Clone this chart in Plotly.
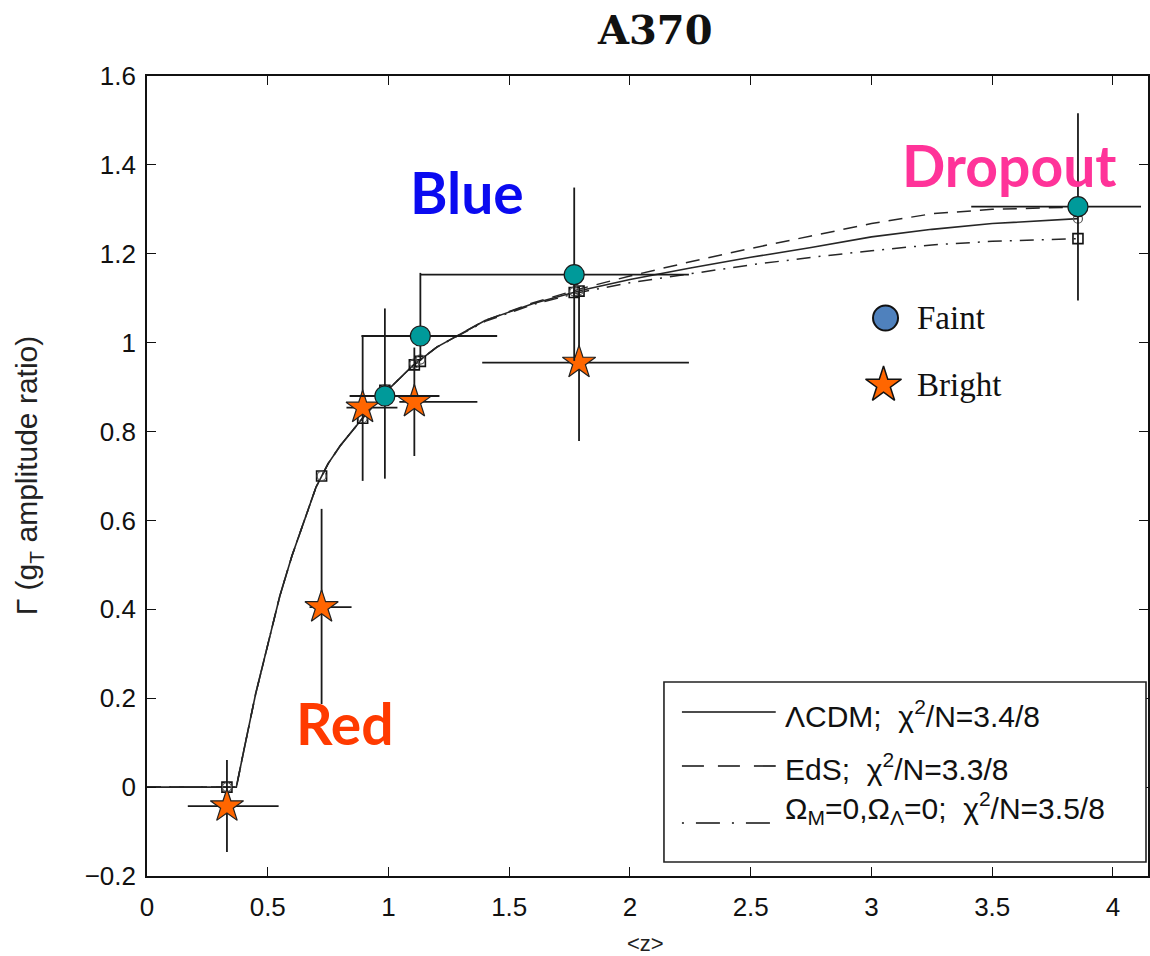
import plotly.graph_objects as go

# ---- model curves: lensing amplitude ratio vs mean redshift ----
z_model = [0.0, 0.37, 0.40, 0.45, 0.50, 0.55, 0.60, 0.65, 0.70, 0.75, 0.80, 0.90,
           1.00, 1.10, 1.20, 1.40, 1.60, 1.80, 2.00, 2.25, 2.50, 2.75, 3.00, 3.25,
           3.50, 3.855]
gamma_lcdm = [0.0, 0.0, 0.08, 0.21, 0.32, 0.43, 0.52, 0.60, 0.675, 0.728, 0.768, 0.835,
              0.895, 0.948, 0.99, 1.05, 1.088, 1.118, 1.142, 1.168, 1.192, 1.214, 1.238,
              1.255, 1.268, 1.279]
gamma_eds = [0.0, 0.0, 0.08, 0.21, 0.32, 0.43, 0.52, 0.60, 0.675, 0.728, 0.768, 0.835,
             0.895, 0.948, 0.99, 1.05, 1.09, 1.122, 1.15, 1.182, 1.212, 1.24, 1.268,
             1.29, 1.30, 1.305]
gamma_open = [0.0, 0.0, 0.08, 0.21, 0.32, 0.43, 0.52, 0.60, 0.675, 0.728, 0.768, 0.835,
              0.895, 0.948, 0.99, 1.048, 1.086, 1.114, 1.135, 1.155, 1.175, 1.192, 1.207,
              1.22, 1.228, 1.234]

# model predictions evaluated at the data redshifts
z_pred = [0.331, 0.723, 0.893, 0.985, 1.107, 1.132, 1.769, 1.789, 3.855]
pred_lcdm = [0.0, 0.70, 0.83, 0.895, 0.953, 0.962, 1.115, 1.118, 1.279]
pred_open = [0.0, 0.70, 0.83, 0.893, 0.950, 0.958, 1.113, 1.116, 1.234]

# ---- measurements ----
faint_z = [0.985, 1.132, 1.769, 3.855]
faint_g = [0.88, 1.015, 1.153, 1.306]
faint_zlo = [0.146, 0.244, 0.637, 0.442]
faint_zhi = [0.226, 0.318, 0.475, 0.261]
faint_glo = [0.186, 0.056, 0.194, 0.211]
faint_ghi = [0.197, 0.142, 0.196, 0.210]

bright_z = [0.331, 0.723, 0.893, 1.107, 1.789]
bright_g = [-0.043, 0.405, 0.854, 0.867, 0.955]
bright_zlo = [0.162, 0.05, 0.067, 0.062, 0.401]
bright_zhi = [0.214, 0.124, 0.144, 0.261, 0.455]
bright_glo = [0.103, 0.218, 0.165, 0.122, 0.176]
bright_ghi = [0.104, 0.221, 0.162, 0.122, 0.162]

x_ticks = [0, 0.5, 1, 1.5, 2, 2.5, 3, 3.5, 4]
x_tick_text = ["0", "0.5", "1", "1.5", "2", "2.5", "3", "3.5", "4"]
y_ticks = [-0.2, 0, 0.2, 0.4, 0.6, 0.8, 1.0, 1.2, 1.4, 1.6]
y_tick_text = ["\u22120.2", "0", "0.2", "0.4", "0.6", "0.8", "1", "1.2", "1.4", "1.6"]

legend_labels = ["\u039bCDM;  \u03c7<sup>2</sup>/N=3.4/8",
                 "EdS;  \u03c7<sup>2</sup>/N=3.3/8",
                 "\u03a9<sub>M</sub>=0,\u03a9<sub>\u039b</sub>=0;  \u03c7<sup>2</sup>/N=3.5/8"]

W, H = 1150, 956
L, R, T, B = 147, 0, 76, 80


def px_x(p):
    return (p - L) / (W - L - R)


def px_y(p):
    return (H - B - p) / (H - T - B)


CURVE = "#262626"
ERR = "#1a1a1a"

fig = go.Figure()

fig.add_trace(go.Scatter(x=z_model, y=gamma_lcdm, mode="lines",
                         line=dict(color=CURVE, width=1.6), showlegend=False))
fig.add_trace(go.Scatter(x=z_model, y=gamma_eds, mode="lines",
                         line=dict(color=CURVE, width=1.5, dash="14px,9px"), showlegend=False))
fig.add_trace(go.Scatter(x=z_model, y=gamma_open, mode="lines",
                         line=dict(color=CURVE, width=1.5, dash="14px,8px,2px,8px"),
                         showlegend=False))

fig.add_trace(go.Scatter(x=z_pred, y=pred_open, mode="markers",
                         marker=dict(symbol="square-open", size=10, color="#111",
                                     line=dict(width=1.6)), showlegend=False))
fig.add_trace(go.Scatter(x=z_pred, y=pred_lcdm, mode="markers",
                         marker=dict(symbol="circle-open", size=9, color="#555",
                                     line=dict(width=1.2)), showlegend=False))

fig.add_trace(go.Scatter(
    x=bright_z, y=bright_g, mode="markers",
    marker=dict(symbol="star", size=25, color="#FF6600", line=dict(color="#222", width=1.2)),
    error_x=dict(type="data", symmetric=False, array=bright_zhi, arrayminus=bright_zlo,
                 color=ERR, thickness=1.8, width=0),
    error_y=dict(type="data", symmetric=False, array=bright_ghi, arrayminus=bright_glo,
                 color=ERR, thickness=1.8, width=0),
    showlegend=False))

fig.add_trace(go.Scatter(
    x=faint_z, y=faint_g, mode="markers",
    marker=dict(symbol="circle", size=20, color="#009A9A", line=dict(color="#1b1b1b", width=1.2)),
    error_x=dict(type="data", symmetric=False, array=faint_zhi, arrayminus=faint_zlo,
                 color=ERR, thickness=1.8, width=0),
    error_y=dict(type="data", symmetric=False, array=faint_ghi, arrayminus=faint_glo,
                 color=ERR, thickness=1.8, width=0),
    showlegend=False))

# symbol key (Faint / Bright) on a pixel-aligned overlay axis
fig.add_trace(go.Scatter(
    x=[887], y=[318], xaxis="x2", yaxis="y2", mode="markers",
    marker=dict(symbol="circle", size=25, color="#4F81BD", line=dict(color="#111", width=2)),
    showlegend=False, hoverinfo="skip"))
fig.add_trace(go.Scatter(
    x=[885], y=[385], xaxis="x2", yaxis="y2", mode="markers",
    marker=dict(symbol="star", size=27, color="#FF6600", line=dict(color="#111", width=1.5)),
    showlegend=False, hoverinfo="skip"))

shapes = []
annotations = []

# model key box
shapes.append(dict(type="rect", xref="paper", yref="paper",
                   x0=px_x(665), x1=px_x(1148), y0=px_y(862), y1=px_y(682),
                   line=dict(color="#222", width=1.6), fillcolor="white", layer="above"))
key_rows = [(712, "solid", 714), (766, "22px,14px", 767), (823, "2px,12px,24px,12px", 808)]
for (ly, dash, ty), label in zip(key_rows, legend_labels):
    shapes.append(dict(type="line", xref="paper", yref="paper",
                       x0=px_x(683), x1=px_x(777), y0=px_y(ly), y1=px_y(ly),
                       line=dict(color="#111", width=1.6, dash=dash), layer="above"))
    annotations.append(dict(xref="paper", yref="paper", x=px_x(784), y=px_y(ty),
                            xanchor="left", yanchor="middle", showarrow=False, text=label,
                            font=dict(family="Liberation Sans", size=30, color="#111")))

annotations += [
    dict(xref="paper", yref="paper", x=px_x(917), y=px_y(318), xanchor="left",
         yanchor="middle", showarrow=False, text="Faint",
         font=dict(family="Liberation Serif", size=33, color="#111")),
    dict(xref="paper", yref="paper", x=px_x(917), y=px_y(385), xanchor="left",
         yanchor="middle", showarrow=False, text="Bright",
         font=dict(family="Liberation Serif", size=33, color="#111")),
    dict(xref="paper", yref="paper", x=px_x(468), y=px_y(192), xanchor="center",
         yanchor="middle", showarrow=False, text="<b>Blue</b>",
         font=dict(family="Lato", size=57, color="#0A0AF0")),
    dict(xref="paper", yref="paper", x=px_x(345), y=px_y(723), xanchor="center",
         yanchor="middle", showarrow=False, text="<b>Red</b>",
         font=dict(family="Lato", size=57, color="#FF3A00")),
    dict(xref="paper", yref="paper", x=px_x(1011), y=px_y(165), xanchor="center",
         yanchor="middle", showarrow=False, text="<b>Dropout</b>",
         font=dict(family="Lato", size=57, color="#FF3399")),
    dict(xref="paper", yref="paper", x=px_x(656), y=px_y(30), xanchor="center",
         yanchor="middle", showarrow=False, text="<b>A370</b>",
         font=dict(family="DejaVu Serif", size=40, color="#111")),
    dict(xref="paper", yref="paper", x=px_x(28), y=px_y(476), xanchor="center",
         yanchor="middle", showarrow=False, textangle=-90,
         text="\u0393 (g<sub>T</sub> amplitude ratio)",
         font=dict(family="Liberation Sans", size=30, color="#222")),
    dict(xref="paper", yref="paper", x=px_x(646), y=px_y(943), xanchor="center",
         yanchor="middle", showarrow=False, text="&lt;z&gt;",
         font=dict(family="Liberation Sans", size=22, color="#222")),
]

axis_common = dict(showgrid=False, zeroline=False, showline=True, linecolor="#111",
                   linewidth=1.6, mirror="ticks", ticks="inside", ticklen=9,
                   tickwidth=1.4, tickcolor="#111",
                   tickfont=dict(family="Liberation Sans", size=26, color="#111"))

fig.update_layout(
    width=W, height=H,
    margin=dict(l=L, r=R, t=T, b=B),
    paper_bgcolor="white", plot_bgcolor="white",
    font=dict(family="Liberation Sans"),
    xaxis=dict(range=[0, 4.145], tickvals=x_ticks, ticktext=x_tick_text,
               ticklabelstandoff=7, **axis_common),
    yaxis=dict(range=[-0.2, 1.6], tickvals=y_ticks, ticktext=y_tick_text,
               ticklabelstandoff=4, **axis_common),
    xaxis2=dict(overlaying="x", range=[L, W - R], visible=False),
    yaxis2=dict(overlaying="y", range=[H - B, T], visible=False),
    shapes=shapes,
    annotations=annotations,
    showlegend=False,
)

fig.write_html("out.html")
